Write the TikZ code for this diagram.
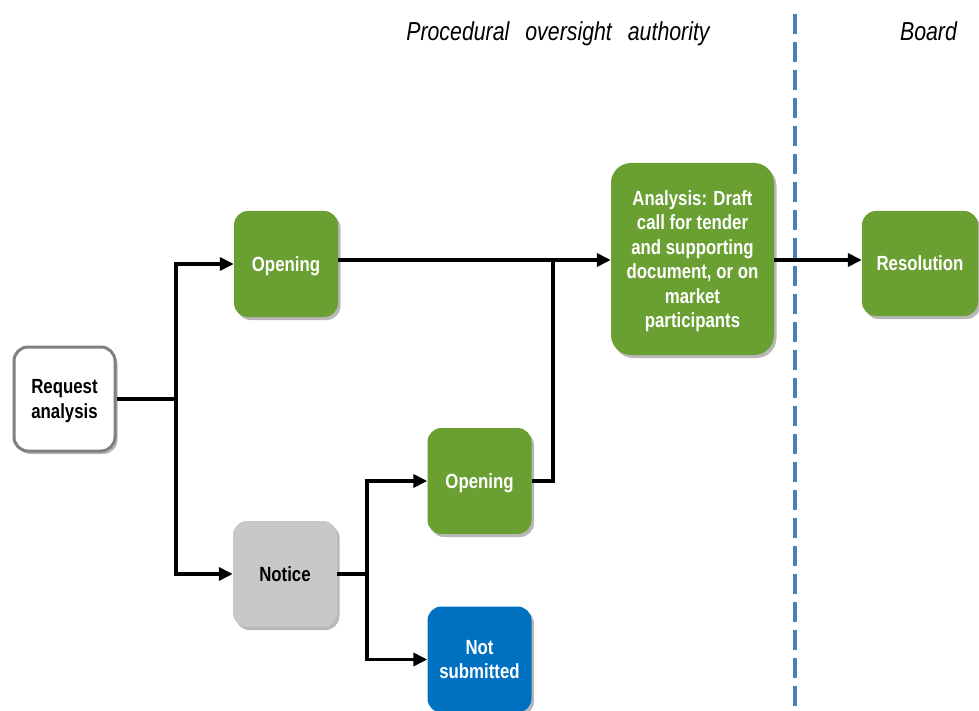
\documentclass[tikz,border=0pt]{standalone}
\usepackage{fontspec}
\setmainfont{Liberation Sans}[FakeStretch=0.82]
\usetikzlibrary{arrows.meta,shadows}

\definecolor{stepgreen}{RGB}{106,159,50}
\definecolor{stepblue}{RGB}{0,112,192}
\definecolor{stepgray}{RGB}{200,200,200}
\definecolor{rimgray}{RGB}{128,128,128}
\definecolor{laneblue}{RGB}{74,126,193}

\tikzset{
  stepbox/.style={rounded corners=14pt, minimum width=104pt, minimum height=106pt,
    align=center, inner sep=2pt, text depth=0pt,
    font=\fontsize{20.5}{24.5}\selectfont\bfseries,
    drop shadow={shadow xshift=2.5pt, shadow yshift=-3pt, fill=black, opacity=0.28}},
  greenbox/.style={stepbox, fill=stepgreen, text=white},
  conn/.style={line width=3.8pt, line join=miter},
  flow/.style={conn, -{Triangle[length=14pt,width=13pt]}},
  lanetitle/.style={font=\fontsize{26}{30}\selectfont\itshape}
}

\begin{document}
\begin{tikzpicture}[x=1pt,y=-1pt]
\useasboundingbox (0,0) rectangle (979,711);
\clip (0,0) rectangle (979,711);

% lane separator and lane titles
\coordinate (lanetop) at (795,14);
\coordinate (lanebot) at (795,711);
\draw[laneblue, line width=4pt, dash pattern=on 20pt off 8pt] (lanetop) -- (lanebot);
\node[lanetitle] (poa) at (558,34) {Procedural\hspace{16pt}oversight\hspace{16pt}authority};
\node[lanetitle] (board) at (928.5,31) {Board};

% process steps
\node[stepbox, fill=white, draw=rimgray, line width=3pt, minimum width=101pt, minimum height=104pt]
  (req) at (64.5,399) {Request\\analysis};
\node[greenbox] (open1) at (286,264) {Opening};
\node[stepbox, fill=stepgray] (notice) at (285,574) {Notice};
\node[greenbox] (open2) at (479.5,481) {Opening};
\node[stepbox, fill=stepblue, text=white] (nosub) at (479.5,659.5) {Not\\submitted};
\node[greenbox, rounded corners=20pt, minimum width=163pt, minimum height=192pt]
  (ana) at (692.5,259) {Analysis: Draft\\call for tender\\and supporting\\document, or on\\market\\participants};
\node[greenbox, minimum width=116pt, minimum height=105pt] (res) at (920,263.5) {Resolution};

% branch points
\coordinate (j1) at (176,399);
\coordinate (j2) at (367,574);
\coordinate (j3) at (553,260);

% connectors
\draw[conn] (req.east) -- (j1);
\draw[flow] (j1) |- (open1.west);
\draw[flow] (j1) |- (notice.west);
\draw[flow] (open1.east |- j3) -- (ana.west |- j3);
\draw[conn] (open2.east) -| (j3);
\draw[conn] (notice.east) -- (j2);
\draw[flow] (j2) |- (open2.west);
\draw[flow] (j2) |- (nosub.west);
\draw[flow] (ana.east |- j3) -- (res.west |- j3);
\end{tikzpicture}
\end{document}
